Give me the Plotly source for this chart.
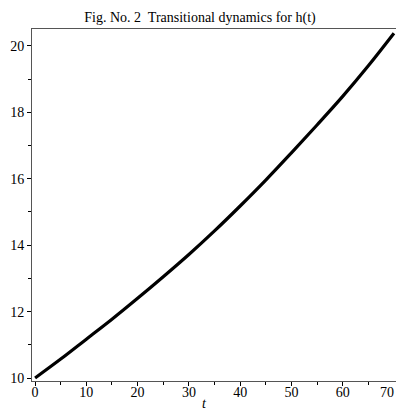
import plotly.graph_objects as go

t_vals = [0, 5, 10, 15, 20, 25, 30, 35, 40, 45, 50, 55, 60, 65, 70]
h_vals = [10.0, 10.57, 11.17, 11.77, 12.4, 13.05, 13.72, 14.43, 15.18, 15.96, 16.78, 17.62, 18.48, 19.4, 20.38]

x_ticks = [0, 10, 20, 30, 40, 50, 60, 70]
y_ticks = [10, 12, 14, 16, 18, 20]

title_text = "Fig. No. 2  Transitional dynamics for h(t)"
x_label = "t"

fig = go.Figure()
fig.add_trace(go.Scatter(x=t_vals, y=h_vals, mode="lines",
                         line=dict(color="black", width=3.2, shape="spline"),
                         showlegend=False))

font_fam = "Liberation Serif"
axis_col = "#555555"

fig.update_layout(
    width=396, height=410,
    margin=dict(l=32, r=0, t=29, b=29),
    paper_bgcolor="white", plot_bgcolor="white",
    title=dict(text=title_text, x=200/396, xanchor="center", y=1 - 17/410, yanchor="middle",
               font=dict(family=font_fam, size=14, color="black")),
    font=dict(family=font_fam, size=14, color="black"),
)
fig.update_xaxes(range=[-0.6, 70.4], showgrid=False, zeroline=False,
                 showline=True, linecolor=axis_col, linewidth=1, mirror=True,
                 tickmode="array", tickvals=x_ticks[:-1],
                 ticks="outside", ticklen=4, tickcolor="black", tickwidth=1,
                 ticklabelstandoff=-6,
                 minor=dict(tickvals=[5, 15, 25, 35, 45, 55, 65], ticks="outside", ticklen=3, tickcolor="black"),
                 tickfont=dict(family=font_fam, size=14, color="black"))
fig.update_yaxes(range=[9.91, 20.51], showgrid=False, zeroline=False,
                 showline=True, linecolor=axis_col, linewidth=1,
                 tickmode="array", tickvals=y_ticks,
                 ticks="outside", ticklen=4, tickcolor="black", tickwidth=1,
                 minor=dict(tickvals=[11, 13, 15, 17, 19], ticks="outside", ticklen=3, tickcolor="black"),
                 tickfont=dict(family=font_fam, size=14, color="black"))

# last x tick label sits at the right edge of the picture
fig.add_annotation(text=str(x_ticks[-1]), xref="paper", yref="paper", x=1, y=0,
                   xanchor="right", yanchor="top", yshift=-2, showarrow=False,
                   font=dict(family=font_fam, size=14, color="black"))

fig.add_annotation(text="<i>" + x_label + "</i>", xref="paper", yref="paper", x=0.475, y=0,
                   xanchor="center", yanchor="top", yshift=-13, showarrow=False,
                   font=dict(family=font_fam, size=14, color="black"))

fig.write_html("out.html")
